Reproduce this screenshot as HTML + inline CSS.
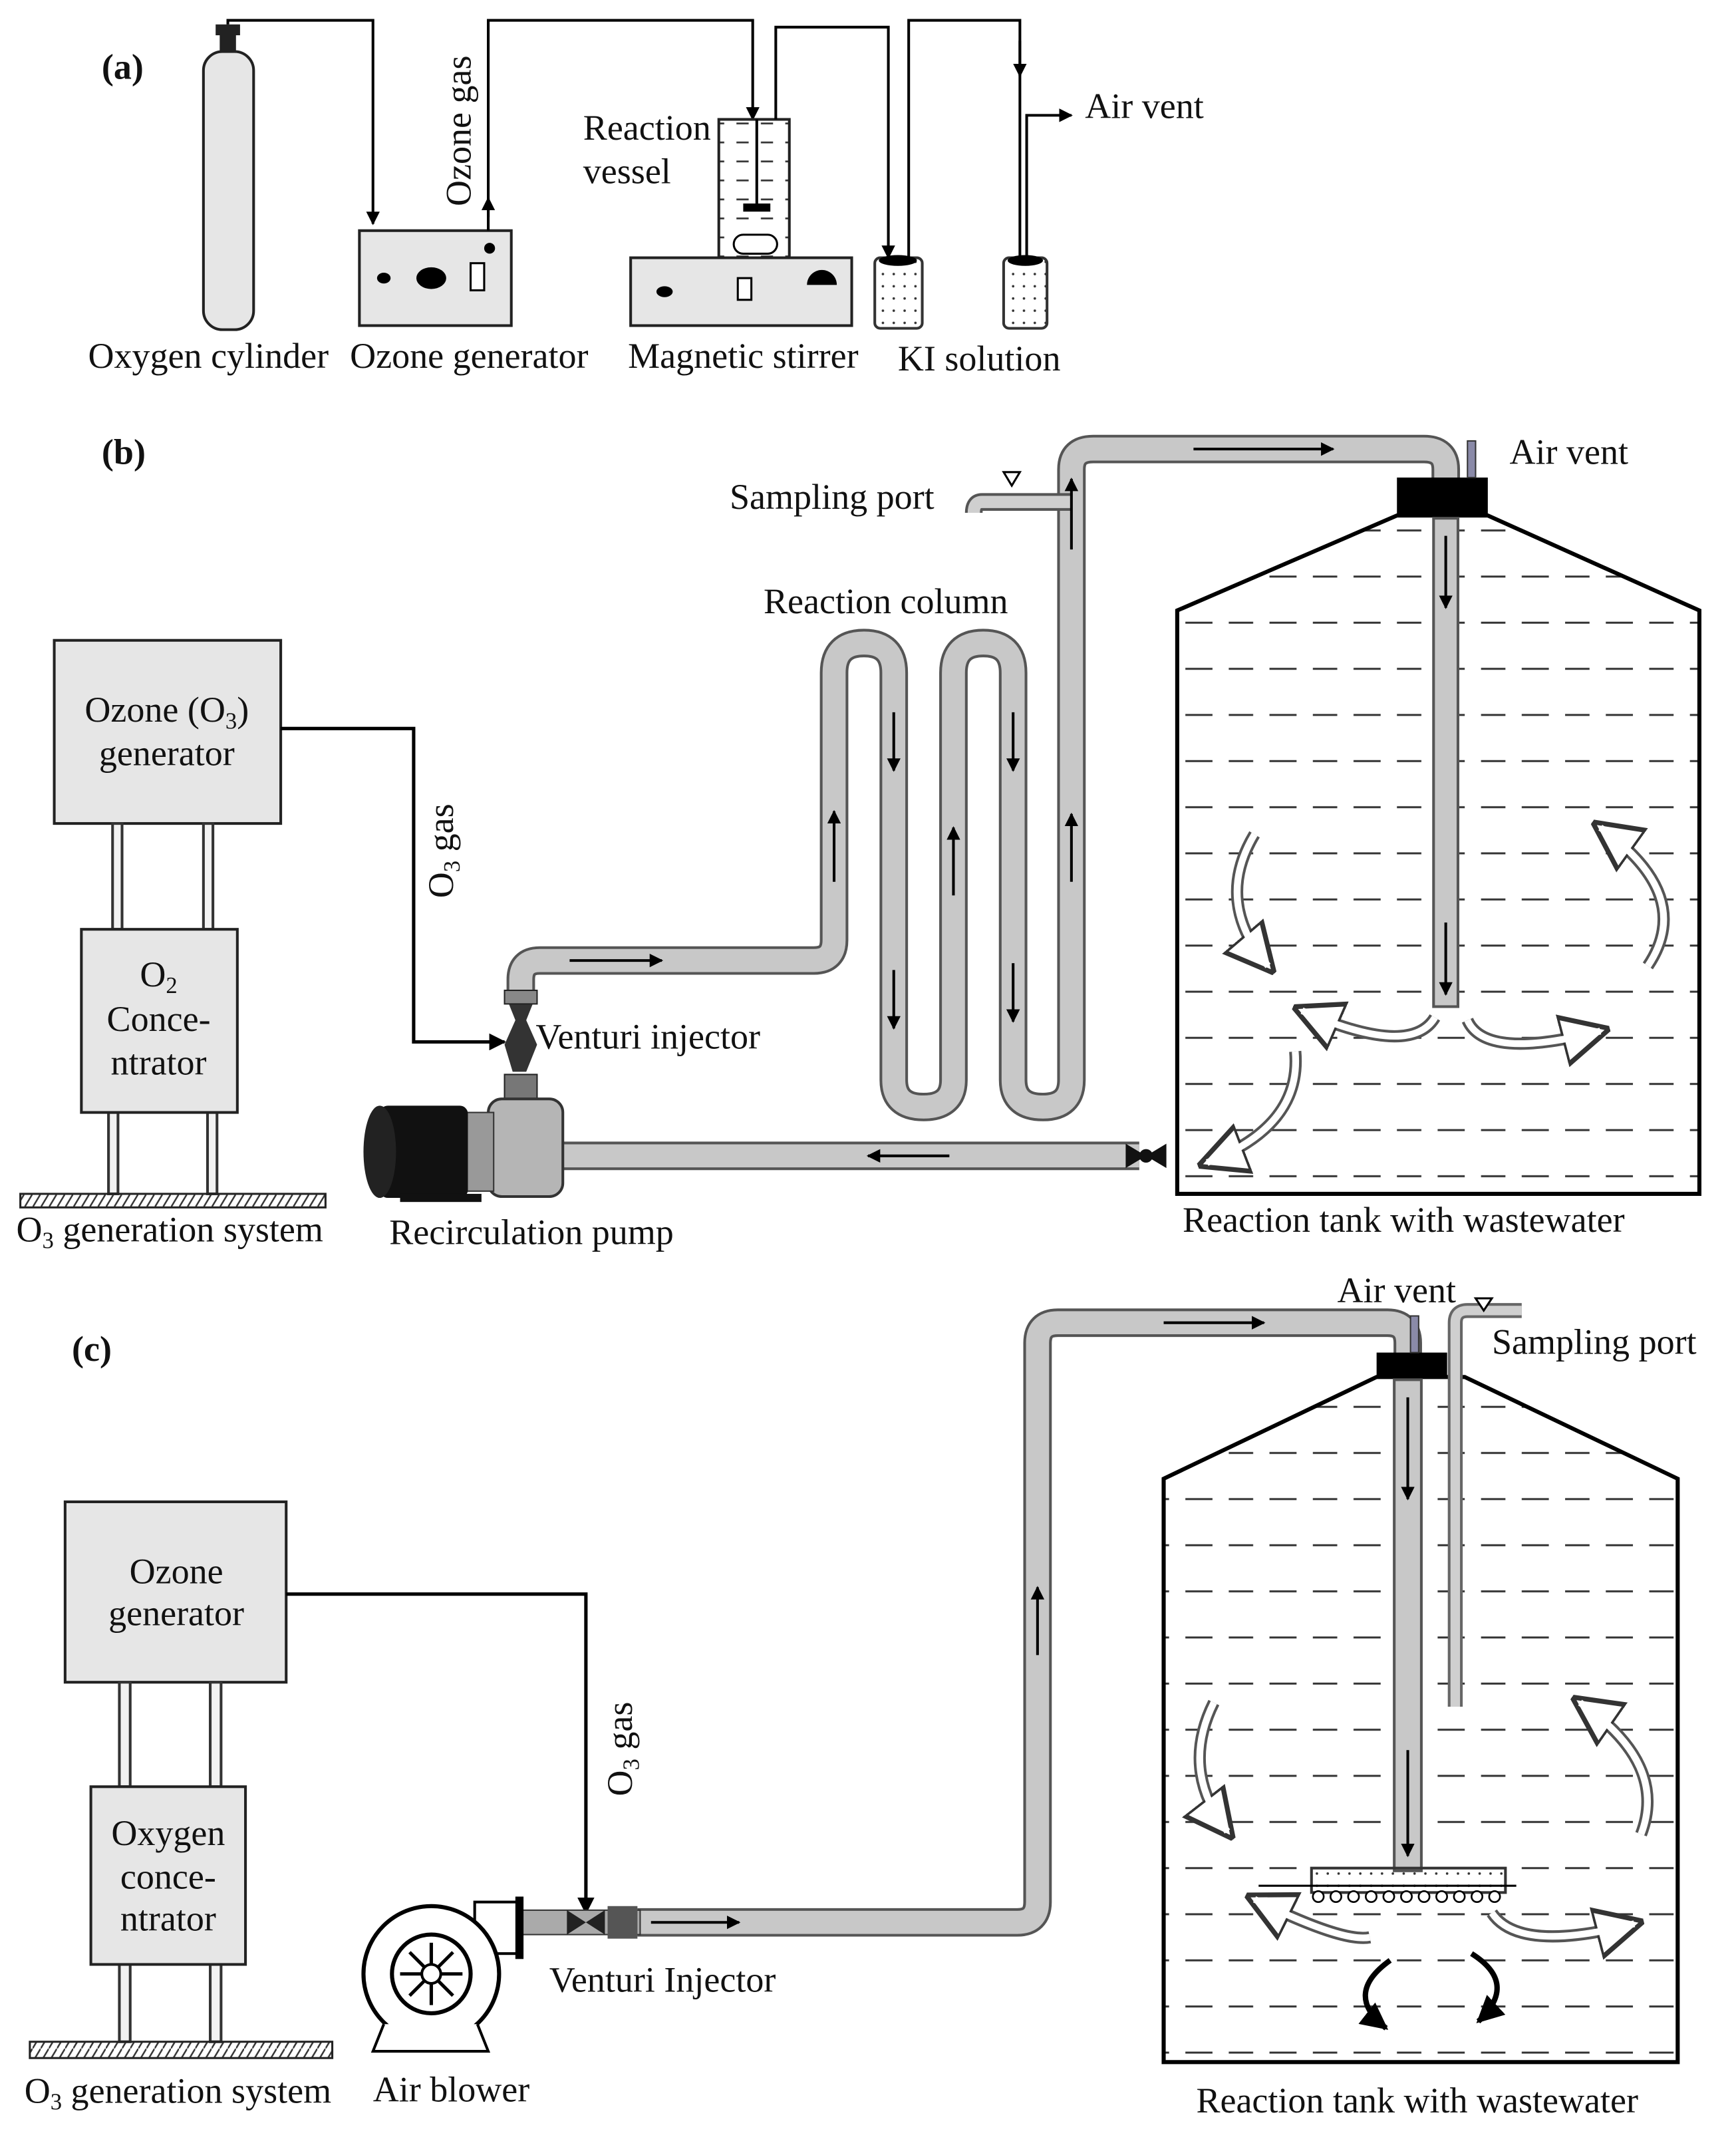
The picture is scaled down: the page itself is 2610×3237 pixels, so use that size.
<!DOCTYPE html>
<html><head><meta charset="utf-8"><style>
html,body{margin:0;padding:0;background:#fff;}
svg{display:block;}
text{font-family:"Liberation Serif",serif;font-size:26.5px;fill:#111;}
</style></head><body>
<svg width="2610" height="3237" viewBox="0 0 1280 1587" preserveAspectRatio="none" xmlns="http://www.w3.org/2000/svg">
<defs>
<marker id="ah" viewBox="0 0 10 10" refX="9" refY="5" markerWidth="5" markerHeight="5" orient="auto"><path d="M0,0L10,5L0,10z" fill="#000"/></marker>
<marker id="ow" viewBox="0 0 10 10" refX="8" refY="5" markerWidth="4" markerHeight="5" orient="auto"><path d="M0,0L10,5L0,10z" fill="#fff" stroke="#333" stroke-width="1"/></marker>
<pattern id="dash" width="62" height="34" patternUnits="userSpaceOnUse"><line x1="6" y1="17" x2="26" y2="17" stroke="#333" stroke-width="1.5"/><line x1="38" y1="17" x2="56" y2="17" stroke="#333" stroke-width="1.5"/></pattern>
<pattern id="dashs" width="18" height="14" patternUnits="userSpaceOnUse"><line x1="3" y1="7" x2="12" y2="7" stroke="#333" stroke-width="1.3"/></pattern>
<pattern id="dots" width="8" height="9" patternUnits="userSpaceOnUse"><circle cx="3" cy="4" r="0.9" fill="#333"/></pattern>
<pattern id="hatch" width="6" height="10" patternUnits="userSpaceOnUse"><line x1="0" y1="10" x2="6" y2="0" stroke="#333" stroke-width="1.2"/></pattern>
</defs>

<!-- (a) -->
<text x="75" y="58" font-weight="bold">(a)</text>
<rect x="150" y="38" width="37" height="205" rx="14" fill="#e6e6e6" stroke="#222" stroke-width="2"/>
<rect x="162" y="24" width="12" height="15" fill="#222"/>
<rect x="159" y="18" width="18" height="8" fill="#222"/>
<polyline points="168,18 168,15 275,15 275,165" fill="none" stroke="#000" stroke-width="2" marker-end="url(#ah)"/>
<rect x="265" y="170" width="112" height="70" fill="#e6e6e6" stroke="#222" stroke-width="2"/>
<ellipse cx="283" cy="205" rx="5" ry="4" fill="#000"/>
<ellipse cx="318" cy="205" rx="11" ry="8" fill="#000"/>
<rect x="347" y="194" width="10" height="20" fill="#fff" stroke="#000" stroke-width="1.5"/>
<circle cx="361" cy="183" r="4" fill="#000"/>
<line x1="360" y1="170" x2="360" y2="146" stroke="#000" stroke-width="2" marker-end="url(#ah)"/>
<polyline points="360,160 360,15 555,15 555,88" fill="none" stroke="#000" stroke-width="2" marker-end="url(#ah)"/>
<text transform="translate(347,152) rotate(-90)">Ozone gas</text>
<rect x="530" y="88" width="52" height="102" fill="url(#dashs)" stroke="#222" stroke-width="2"/>
<line x1="558" y1="88" x2="558" y2="152" stroke="#000" stroke-width="2"/>
<rect x="548" y="150" width="20" height="6" fill="#000"/>
<rect x="541" y="173" width="32" height="14" rx="7" fill="#fff" stroke="#000" stroke-width="1.5"/>
<rect x="465" y="190" width="163" height="50" fill="#e6e6e6" stroke="#222" stroke-width="2"/>
<ellipse cx="490" cy="215" rx="6" ry="4" fill="#000"/>
<rect x="544" y="205" width="10" height="16" fill="#fff" stroke="#000" stroke-width="1.5"/>
<path d="M595,210 A11,11 0 0 1 617,210 Z" fill="#000"/>
<polyline points="572,88 572,20 655,20 655,190" fill="none" stroke="#000" stroke-width="2" marker-end="url(#ah)"/>
<rect x="645" y="190" width="35" height="52" rx="4" fill="url(#dots)" stroke="#333" stroke-width="2"/>
<ellipse cx="662" cy="192" rx="14" ry="4" fill="#000"/>
<polyline points="670,190 670,15 752,15 752,190" fill="none" stroke="#000" stroke-width="2"/>
<line x1="752" y1="30" x2="752" y2="56" stroke="#000" stroke-width="2" marker-end="url(#ah)"/>
<rect x="740" y="190" width="32" height="52" rx="4" fill="url(#dots)" stroke="#333" stroke-width="2"/>
<ellipse cx="756" cy="192" rx="13" ry="4" fill="#000"/>
<polyline points="757,190 757,85 790,85" fill="none" stroke="#000" stroke-width="2" marker-end="url(#ah)"/>
<text x="800" y="87">Air vent</text>
<text x="430" y="103">Reaction</text>
<text x="430" y="135">vessel</text>
<text x="65" y="271">Oxygen cylinder</text>
<text x="258" y="271">Ozone generator</text>
<text x="463" y="271">Magnetic stirrer</text>
<text x="662" y="273">KI solution</text>

<!-- (b) -->
<text x="75" y="342" font-weight="bold">(b)</text>
<rect x="40" y="472" width="167" height="135" fill="#e6e6e6" stroke="#222" stroke-width="2"/>
<text x="123" y="532" text-anchor="middle">Ozone (O<tspan font-size="17" dy="5">3</tspan><tspan dy="-5">)</tspan></text>
<text x="123" y="564" text-anchor="middle">generator</text>
<g fill="#f2f2f2" stroke="#333" stroke-width="2">
<rect x="83" y="607" width="7" height="78"/><rect x="150" y="607" width="7" height="78"/>
<rect x="80" y="820" width="7" height="60"/><rect x="153" y="820" width="7" height="60"/>
</g>
<rect x="60" y="685" width="115" height="135" fill="#e6e6e6" stroke="#222" stroke-width="2"/>
<text x="117" y="727" text-anchor="middle">O<tspan font-size="17" dy="5">2</tspan></text>
<text x="117" y="760" text-anchor="middle">Conce-</text>
<text x="117" y="792" text-anchor="middle">ntrator</text>
<rect x="15" y="880" width="225" height="10" fill="url(#hatch)" stroke="#222" stroke-width="1.5"/>
<text x="12" y="915">O<tspan font-size="17" dy="5">3</tspan><tspan dy="-5"> generation system</tspan></text>
<polyline points="207,537 305,537 305,768 372,768" fill="none" stroke="#000" stroke-width="2.5" marker-end="url(#ah)"/>
<text transform="translate(334,662) rotate(-90)">O<tspan font-size="17" dy="5">3</tspan><tspan dy="-5"> gas</tspan></text>

<!-- pipes b -->
<g fill="none" stroke-linejoin="round">
<path d="M384,740 V722 Q384,708 398,708 H600 Q615,708 615,693 V496 Q615,474 637,474 Q659,474 659,496 V796 Q659,816 681,816 Q703,816 703,796 V496 Q703,474 725,474 Q747,474 747,496 V796 Q747,816 769,816 Q790,816 790,796 V346 Q790,331 806,331 H1050 Q1066,331 1066,346 V354" stroke="#555" stroke-width="21"/>
<path d="M384,740 V722 Q384,708 398,708 H600 Q615,708 615,693 V496 Q615,474 637,474 Q659,474 659,496 V796 Q659,816 681,816 Q703,816 703,796 V496 Q703,474 725,474 Q747,474 747,496 V796 Q747,816 769,816 Q790,816 790,796 V346 Q790,331 806,331 H1050 Q1066,331 1066,346 V354" stroke="#c8c8c8" stroke-width="17"/>
<path d="M790,370 H724 Q718,370 718,378" stroke="#555" stroke-width="13"/>
<path d="M790,370 H724 Q718,370 718,378" stroke="#cfcfcf" stroke-width="9"/>
<path d="M415,852 H840" stroke="#555" stroke-width="21"/>
<path d="M415,852 H840" stroke="#c8c8c8" stroke-width="17"/>
</g>
<path d="M740,348 L752,348 L746,358 Z" fill="none" stroke="#000" stroke-width="1.5"/>
<!-- valve -->
<path d="M830,843 L845,852 L830,861 Z M860,843 L845,852 L860,861 Z" fill="#111"/>
<circle cx="845" cy="852" r="5" fill="#111"/>
<!-- venturi + pump -->
<path d="M372,732 H396 L388,752 L396,770 L388,790 H378 L372,770 L380,752 Z" fill="#333"/>
<rect x="372" y="730" width="24" height="10" fill="#888" stroke="#222"/>
<rect x="372" y="792" width="24" height="20" fill="#777" stroke="#222"/>
<rect x="360" y="810" width="55" height="72" rx="10" fill="#b5b5b5" stroke="#333" stroke-width="2"/>
<rect x="340" y="820" width="24" height="58" fill="#999" stroke="#333"/>
<rect x="280" y="815" width="65" height="68" rx="6" fill="#111"/>
<ellipse cx="280" cy="849" rx="12" ry="34" fill="#222"/>
<rect x="295" y="880" width="60" height="6" fill="#111"/>
<!-- tank b -->
<path d="M868,450 L1030,380 H1097 L1253,450 V880 H868 Z" fill="url(#dash)" stroke="#000" stroke-width="3"/>
<rect x="1057" y="382" width="18" height="360" fill="#c8c8c8" stroke="#555" stroke-width="2"/>
<rect x="1030" y="352" width="67" height="28" fill="#000"/>
<rect x="1082" y="325" width="6" height="27" fill="#8a8aa8" stroke="#333"/>
<g stroke="#000" stroke-width="2" marker-end="url(#ah)">
<line x1="420" y1="708" x2="488" y2="708"/>
<line x1="880" y1="331" x2="983" y2="331"/>
<line x1="615" y1="650" x2="615" y2="598"/>
<line x1="659" y1="525" x2="659" y2="568"/>
<line x1="659" y1="715" x2="659" y2="758"/>
<line x1="703" y1="660" x2="703" y2="610"/>
<line x1="747" y1="525" x2="747" y2="568"/>
<line x1="747" y1="710" x2="747" y2="753"/>
<line x1="790" y1="650" x2="790" y2="600"/>
<line x1="790" y1="405" x2="790" y2="353"/>
<line x1="1066" y1="395" x2="1066" y2="448"/>
<line x1="1066" y1="680" x2="1066" y2="733"/>
<line x1="700" y1="852" x2="640" y2="852"/>
</g>
<g fill="none" stroke="#555" stroke-width="9" marker-end="url(#ow)">
<path d="M925,615 Q895,665 935,712"/>
<path d="M1215,712 Q1250,660 1180,610"/>
<path d="M1058,750 Q1040,780 960,745"/>
<path d="M1082,752 Q1095,782 1180,760"/>
<path d="M955,775 Q960,830 890,857"/>
</g>
<g fill="none" stroke="#fff" stroke-width="5">
<path d="M925,615 Q895,665 935,712"/>
<path d="M1215,712 Q1250,660 1180,610"/>
<path d="M1058,750 Q1040,780 960,745"/>
<path d="M1082,752 Q1095,782 1180,760"/>
<path d="M955,775 Q960,830 890,857"/>
</g>
<text x="1113" y="342">Air vent</text>
<text x="538" y="375">Sampling port</text>
<text x="563" y="452">Reaction column</text>
<text x="395" y="773">Venturi injector</text>
<text x="287" y="917">Recirculation pump</text>
<text x="872" y="908">Reaction tank with wastewater</text>

<!-- (c) -->
<text x="53" y="1003" font-weight="bold">(c)</text>
<rect x="48" y="1107" width="163" height="133" fill="#e6e6e6" stroke="#222" stroke-width="2"/>
<text x="130" y="1167" text-anchor="middle">Ozone</text>
<text x="130" y="1198" text-anchor="middle">generator</text>
<g fill="#f2f2f2" stroke="#333" stroke-width="2">
<rect x="88" y="1240" width="8" height="77"/><rect x="155" y="1240" width="8" height="77"/>
<rect x="88" y="1448" width="8" height="57"/><rect x="155" y="1448" width="8" height="57"/>
</g>
<rect x="67" y="1317" width="114" height="131" fill="#e6e6e6" stroke="#222" stroke-width="2"/>
<text x="124" y="1360" text-anchor="middle">Oxygen</text>
<text x="124" y="1392" text-anchor="middle">conce-</text>
<text x="124" y="1423" text-anchor="middle">ntrator</text>
<rect x="22" y="1505" width="223" height="12" fill="url(#hatch)" stroke="#222" stroke-width="1.5"/>
<text x="18" y="1550">O<tspan font-size="17" dy="5">3</tspan><tspan dy="-5"> generation system</tspan></text>
<polyline points="211,1175 432,1175 432,1410" fill="none" stroke="#000" stroke-width="2.5" marker-end="url(#ah)"/>
<text transform="translate(466,1324) rotate(-90)">O<tspan font-size="17" dy="5">3</tspan><tspan dy="-5"> gas</tspan></text>
<g fill="none">
<path d="M470,1417 H750 Q765,1417 765,1402 V990 Q765,975 780,975 H1023 Q1038,975 1038,990 V999" stroke="#555" stroke-width="21"/>
<path d="M470,1417 H750 Q765,1417 765,1402 V990 Q765,975 780,975 H1023 Q1038,975 1038,990 V999" stroke="#c8c8c8" stroke-width="17"/>
</g>
<rect x="384" y="1408" width="88" height="18" fill="#aaa" stroke="#333"/>
<path d="M418,1408 L432,1417 L446,1408 V1426 L432,1417 L418,1426 Z" fill="#222"/>
<rect x="448" y="1405" width="22" height="24" fill="#555"/>
<!-- blower -->
<rect x="350" y="1402" width="34" height="38" fill="#fff" stroke="#000" stroke-width="2"/>
<rect x="380" y="1398" width="6" height="46" fill="#000"/>
<circle cx="318" cy="1455" r="50" fill="#fff" stroke="#000" stroke-width="3"/>
<circle cx="318" cy="1455" r="29" fill="#fff" stroke="#000" stroke-width="3"/>
<g stroke="#000" stroke-width="2.5">
<line x1="318" y1="1432" x2="318" y2="1478"/><line x1="295" y1="1455" x2="341" y2="1455"/>
<line x1="302" y1="1439" x2="334" y2="1471"/><line x1="334" y1="1439" x2="302" y2="1471"/>
</g>
<circle cx="318" cy="1455" r="7" fill="#fff" stroke="#000" stroke-width="2"/>
<path d="M283,1492 L275,1512 H360 L352,1492" fill="#fff" stroke="#000" stroke-width="2"/>
<!-- tank c -->
<path d="M858,1090 L1015,1015 H1080 L1237,1090 V1520 H858 Z" fill="url(#dash)" stroke="#000" stroke-width="3"/>
<rect x="1028" y="1017" width="20" height="362" fill="#c8c8c8" stroke="#555" stroke-width="2"/>
<rect x="1015" y="997" width="52" height="18" fill="#000"/>
<rect x="1040" y="970" width="6" height="27" fill="#8a8aa8" stroke="#333"/>
<path d="M1073,1258 V975 Q1073,966 1082,966 H1122" fill="none" stroke="#666" stroke-width="11"/>
<path d="M1073,1258 V975 Q1073,966 1082,966 H1122" fill="none" stroke="#cfcfcf" stroke-width="7"/>
<path d="M1088,957 L1100,957 L1094,966 Z" fill="#fff" stroke="#000" stroke-width="1.5"/>
<g stroke="#000" stroke-width="2" marker-end="url(#ah)">
<line x1="480" y1="1417" x2="545" y2="1417"/>
<line x1="858" y1="975" x2="932" y2="975"/>
<line x1="765" y1="1220" x2="765" y2="1170"/>
<line x1="1038" y1="1030" x2="1038" y2="1105"/>
<line x1="1038" y1="1290" x2="1038" y2="1368"/>
</g>
<rect x="967" y="1377" width="143" height="18" fill="url(#dots)" stroke="#333" stroke-width="2"/>
<g fill="#fff" stroke="#000" stroke-width="1.3">
<circle cx="972" cy="1398" r="4"/><circle cx="985" cy="1398" r="4"/><circle cx="998" cy="1398" r="4"/><circle cx="1011" cy="1398" r="4"/><circle cx="1024" cy="1398" r="4"/><circle cx="1037" cy="1398" r="4"/><circle cx="1050" cy="1398" r="4"/><circle cx="1063" cy="1398" r="4"/><circle cx="1076" cy="1398" r="4"/><circle cx="1089" cy="1398" r="4"/><circle cx="1102" cy="1398" r="4"/>
</g>
<line x1="928" y1="1390" x2="1118" y2="1390" stroke="#000" stroke-width="1.5"/>
<g fill="none" stroke="#555" stroke-width="9" marker-end="url(#ow)">
<path d="M895,1255 Q870,1305 905,1350"/>
<path d="M1210,1352 Q1230,1300 1165,1255"/>
<path d="M1010,1428 Q990,1432 925,1400"/>
<path d="M1100,1410 Q1120,1440 1205,1418"/>
</g>
<g fill="none" stroke="#fff" stroke-width="5">
<path d="M895,1255 Q870,1305 905,1350"/>
<path d="M1210,1352 Q1230,1300 1165,1255"/>
<path d="M1010,1428 Q990,1432 925,1400"/>
<path d="M1100,1410 Q1120,1440 1205,1418"/>
</g>
<g fill="none" stroke="#000" stroke-width="4" marker-end="url(#ah)">
<path d="M1025,1445 Q990,1470 1022,1495"/>
<path d="M1085,1440 Q1120,1462 1090,1490"/>
</g>
<text x="986" y="960">Air vent</text>
<text x="1100" y="998">Sampling port</text>
<text x="405" y="1468">Venturi Injector</text>
<text x="275" y="1549">Air blower</text>
<text x="882" y="1557">Reaction tank with wastewater</text>
</svg>
</body></html>
